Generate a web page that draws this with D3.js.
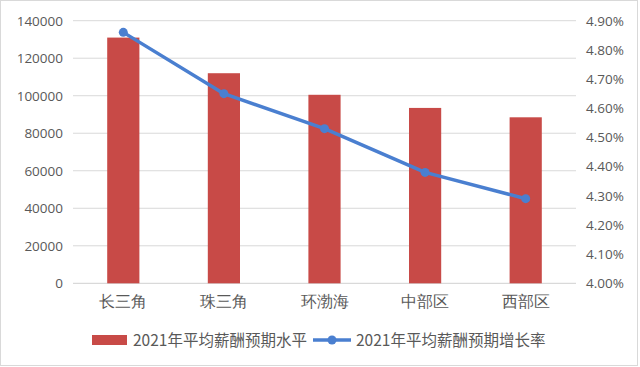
<!DOCTYPE html>
<html><head><meta charset="utf-8">
<script src="https://cdn.jsdelivr.net/npm/d3@7"></script>
<style>body{margin:0;background:#fff;}svg{display:block;font-family:"Noto Sans CJK SC","Noto Sans",sans-serif;}</style>
</head><body>
<svg id="c" width="640" height="367"></svg>
<script>
const categories = ["长三角","珠三角","环渤海","中部区","西部区"];
const salaryLevel = [131000,112000,100500,93500,88500];
const growthRate = [0.0486,0.0465,0.0453,0.0438,0.0429];
const leftTicks = [0,20000,40000,60000,80000,100000,120000,140000];
const rightTicks = [0.040,0.041,0.042,0.043,0.044,0.045,0.046,0.047,0.048,0.049];
const seriesNames = ["2021年平均薪酬预期水平","2021年平均薪酬预期增长率"];

const svg = d3.select("#c");
const L = 73, R = 576, T = 20.7, B = 283.3;
svg.append("rect").attr("x",0.5).attr("y",0.5).attr("width",637).attr("height",365)
  .attr("fill","#fff").attr("stroke","#d9d9d9");

const x = d3.scaleBand().domain(categories).range([L,R]).paddingInner(0.68).paddingOuter(0.34);
const y = d3.scaleLinear().domain([0,140000]).range([B,T]);
const y2 = d3.scaleLinear().domain([0.040,0.049]).range([B,T]);

// gridlines
svg.append("g").selectAll("line").data(leftTicks).join("line")
  .attr("x1",L).attr("x2",R).attr("y1",d=>y(d)).attr("y2",d=>y(d))
  .attr("stroke",d=>d===0?"#d0d0d0":"#d9d9d9").attr("stroke-width",1);

// left axis
const ga = svg.append("g").attr("transform",`translate(${L-10},0)`)
  .call(d3.axisLeft(y).tickValues(leftTicks).tickSize(0).tickPadding(0).tickFormat(d3.format("d")));
ga.select(".domain").remove();
ga.selectAll("text").attr("fill","#595959").style("font-size","13.5px").style("font-family","'Open Sans',sans-serif");

// right axis
const gb = svg.append("g").attr("transform",`translate(${R+10},0)`)
  .call(d3.axisRight(y2).tickValues(rightTicks).tickSize(0).tickPadding(0).tickFormat(d3.format(".2%")));
gb.select(".domain").remove();
gb.selectAll("text").attr("fill","#595959").style("font-size","13.5px").style("font-family","'Open Sans',sans-serif");

// category axis
const gc = svg.append("g").attr("transform",`translate(0,${B})`)
  .call(d3.axisBottom(x).tickSize(0).tickPadding(13));
gc.select(".domain").remove();
gc.selectAll("text").attr("fill","#595959").style("font-size","15.5px");

// bars
svg.append("g").selectAll("rect").data(categories).join("rect")
  .attr("x",d=>x(d)).attr("width",x.bandwidth())
  .attr("y",(d,i)=>y(salaryLevel[i])).attr("height",(d,i)=>B-y(salaryLevel[i]))
  .attr("fill","#c84a47");

// line
const line = d3.line().x((d,i)=>x(categories[i])+x.bandwidth()/2).y(d=>y2(d));
svg.append("path").datum(growthRate).attr("d",line).attr("fill","none")
  .attr("stroke","#4a7fd0").attr("stroke-width",3.5).attr("stroke-linejoin","round");
svg.append("g").selectAll("circle").data(growthRate).join("circle")
  .attr("cx",(d,i)=>x(categories[i])+x.bandwidth()/2).attr("cy",d=>y2(d)).attr("r",4.5)
  .attr("fill","#4a7fd0");

// legend
const lg = svg.append("g");
lg.append("rect").attr("x",92).attr("y",335).attr("width",35).attr("height",10).attr("fill","#c84a47");
lg.append("text").attr("x",133).attr("y",341).attr("dy","0.35em").text(seriesNames[0])
  .attr("fill","#595959").style("font-size","15.5px");
lg.append("line").attr("x1",313).attr("x2",351).attr("y1",340).attr("y2",340)
  .attr("stroke","#4a7fd0").attr("stroke-width",3.5);
lg.append("circle").attr("cx",332).attr("cy",340).attr("r",4.5).attr("fill","#4a7fd0");
lg.append("text").attr("x",356).attr("y",341).attr("dy","0.35em").text(seriesNames[1])
  .attr("fill","#595959").style("font-size","15.5px");
</script>
</body></html>
